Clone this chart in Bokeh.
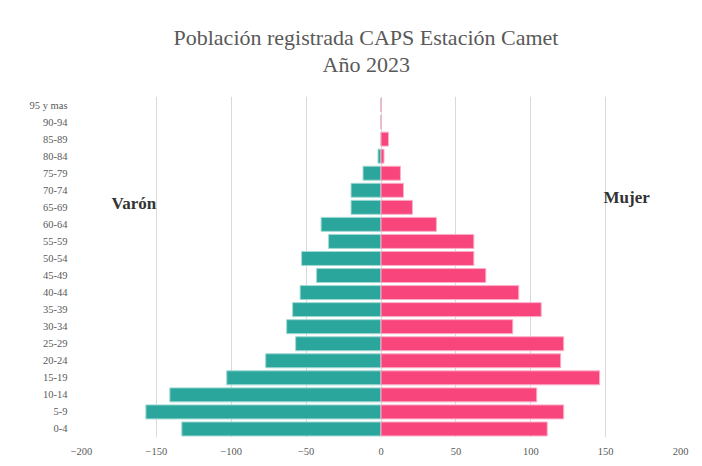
from bokeh.plotting import figure
from bokeh.models import FactorRange, Range1d, FixedTicker, Label, Title, LinearAxis
from bokeh.embed import file_html
from bokeh.resources import INLINE

categories = ["0-4", "5-9", "10-14", "15-19", "20-24", "25-29", "30-34", "35-39",
              "40-44", "45-49", "50-54", "55-59", "60-64", "65-69", "70-74",
              "75-79", "80-84", "85-89", "90-94", "95 y mas"]
varon = [-133, -157, -141, -103, -77, -57, -63, -59, -54, -43, -53, -35, -40,
         -20, -20, -12, -2, 0, 0, 0]
mujer = [111, 122, 104, 146, 120, 122, 88, 107, 92, 70, 62, 62, 37, 21, 15,
         13, 2, 5, 0, 0]
x_ticks = [-200, -150, -100, -50, 0, 50, 100, 150, 200]

SERIF = "'Liberation Serif', serif"

p = figure(width=694, height=458, output_backend="svg", toolbar_location=None,
           title=None, y_range=FactorRange(factors=categories),
           x_range=Range1d(-200, 200),
           min_border_left=81, min_border_right=14, min_border_top=96,
           min_border_bottom=21)
p.outline_line_color = None

p.hbar(y=categories, left=0, right=varon, height=0.82, fill_color="#2BA69C",
       line_color="#9fd9d3", line_width=1)
p.hbar(y=categories, left=0, right=mujer, height=0.82, fill_color="#F8467D",
       line_color="#fbb0c8", line_width=1)

p.xaxis.ticker = FixedTicker(ticks=x_ticks)
p.xgrid.ticker = FixedTicker(ticks=x_ticks)
p.xgrid.grid_line_color = "#d9d9d9"
p.ygrid.grid_line_color = None

for ax in (p.xaxis[0], p.yaxis[0]):
    ax.axis_line_color = None
    ax.major_tick_line_color = None
    ax.minor_tick_line_color = None
    ax.major_label_text_font = SERIF
    ax.major_label_text_font_size = "10.5px"
    ax.major_label_text_color = "#595959"
p.xaxis.major_label_standoff = 4
p.yaxis.major_label_standoff = 8

# blank spacer between the plot area and the two title lines
spacer = LinearAxis(ticker=FixedTicker(ticks=[0]), axis_line_color=None,
                    major_tick_line_color="white", minor_tick_line_color=None,
                    major_tick_out=20, major_tick_in=0,
                    major_label_overrides={0: ""}, major_label_standoff=0,
                    major_label_text_font_size="1px")
p.add_layout(spacer, "above")

p.add_layout(Title(text="Año 2023", align="left", offset=241, standoff=0,
                   text_font=SERIF, text_font_size="22px", text_font_style="normal",
                   text_color="#595959"), "above")
p.add_layout(Title(text="Población registrada CAPS Estación Camet", align="left",
                   offset=92, standoff=0, text_font=SERIF, text_font_size="22px",
                   text_font_style="normal", text_color="#595959"), "above")

p.add_layout(Label(x=-165, y=13.75, text="Varón", text_font=SERIF,
                   text_font_size="17px", text_font_style="bold",
                   text_color="#333333", text_align="center", text_baseline="middle"))
p.add_layout(Label(x=164, y=14.1, text="Mujer", text_font=SERIF,
                   text_font_size="17px", text_font_style="bold",
                   text_color="#333333", text_align="center", text_baseline="middle"))

open("out.html", "w").write(file_html(p, INLINE))
